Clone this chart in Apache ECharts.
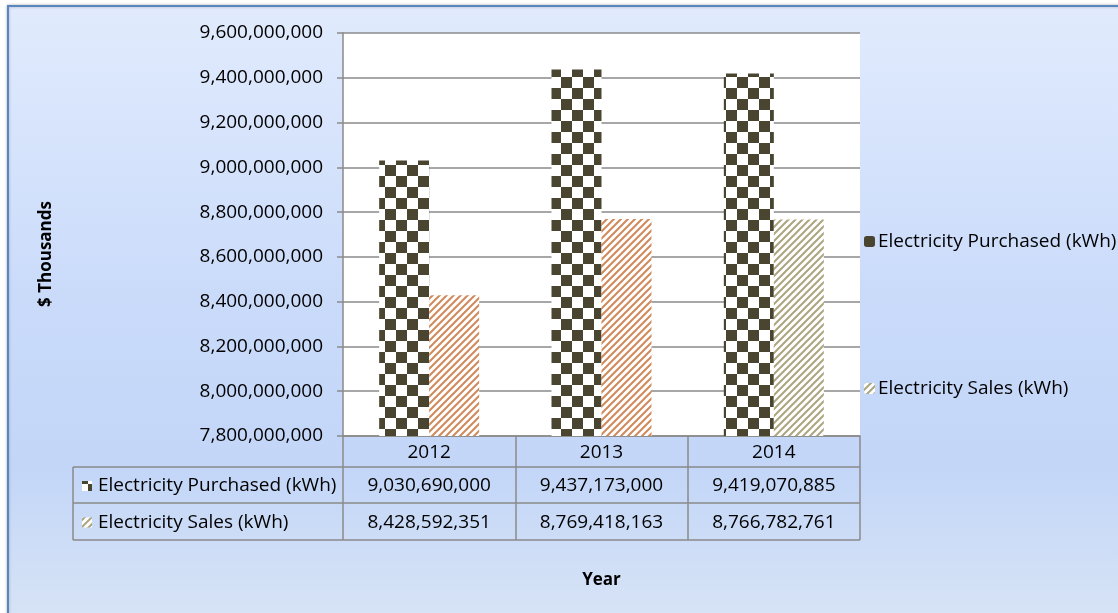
<!DOCTYPE html>
<html>
<head>
<meta charset="utf-8">
<script src="https://cdn.jsdelivr.net/npm/echarts@6/dist/echarts.min.js"></script>
<style>
html,body{margin:0;padding:0;background:#fff;}
#c{width:1118px;height:613px;}
</style>
</head>
<body>
<div id="c"></div>
<script>
// ---- data ----
const categories = ['2012', '2013', '2014'];
const seriesNames = ['Electricity Purchased (kWh)', 'Electricity Sales (kWh)'];
const purchased = [9030690000, 9437173000, 9419070885];
const sales = [8428592351, 8769418163, 8766782761];
const yMin = 7800000000;
const yMax = 9600000000;
const yStep = 200000000;
const yTitle = '$ Thousands';
const xTitle = 'Year';

// ---- layout / style ----
const FONT = 'Open Sans';
const FS = 19;
const G = {left: 343, top: 33, width: 517, height: 403};
const rowH = [31, 36, 37];
const tableLeft = 73;
const lineColor = '#8a8a8a';

function checker(cell, color) {
  const c = document.createElement('canvas');
  c.width = c.height = cell * 2;
  const g = c.getContext('2d');
  g.fillStyle = '#ffffff'; g.fillRect(0, 0, cell * 2, cell * 2);
  g.fillStyle = color;
  g.fillRect(0, 0, cell, cell);
  g.fillRect(cell, cell, cell, cell);
  return {image: c, repeat: 'repeat'};
}
function stripes(n, color, w) {
  const c = document.createElement('canvas');
  c.width = c.height = n;
  const g = c.getContext('2d');
  g.fillStyle = '#ffffff'; g.fillRect(0, 0, n, n);
  g.strokeStyle = color; g.lineWidth = w;
  g.beginPath();
  g.moveTo(-2, n + 2); g.lineTo(n + 2, -2);
  g.moveTo(-2, 2); g.lineTo(2, -2);
  g.moveTo(n - 2, n + 2); g.lineTo(n + 2, n - 2);
  g.stroke();
  return {image: c, repeat: 'repeat'};
}
const checkPat = checker(11, '#4a4530');
const orangePat = stripes(7, '#d08a5c', 2.0);
const olivePat = stripes(7, '#aca580', 2.0);

const fmt = v => Math.round(v).toLocaleString('en-US');

const chart = echarts.init(document.getElementById('c'));

const gfx = [];
gfx.push({
  type: 'rect', z: -10, silent: true,
  shape: {x: 8, y: 6, width: 1140, height: 640},
  style: {
    fill: new echarts.graphic.LinearGradient(0, 0, 0, 1, [
      {offset: 0, color: '#e1ebfd'},
      {offset: 0.45, color: '#cadbfa'},
      {offset: 0.72, color: '#c3d6f8'},
      {offset: 1, color: '#dbe6f5'}
    ]),
    stroke: '#5a86bf', lineWidth: 2,
    shadowBlur: 3, shadowColor: 'rgba(0,0,0,0.25)'
  }
});
gfx.push({type: 'text', silent: true, z: 6, x: 46, y: 254, rotation: Math.PI / 2,
  style: {text: yTitle, font: 'bold 17px "' + FONT + '"', fill: '#000',
    textAlign: 'center', textVerticalAlign: 'middle'}});

const catW = G.width / categories.length;
const y0 = G.top + G.height;
const yRows = [y0, y0 + rowH[0], y0 + rowH[0] + rowH[1], y0 + rowH[0] + rowH[1] + rowH[2]];
const right = G.left + G.width;
[1, 2, 3].forEach(k => {
  gfx.push({type: 'line', silent: true, z: 5,
    shape: {x1: tableLeft, y1: yRows[k], x2: right, y2: yRows[k]},
    style: {stroke: lineColor, lineWidth: 1.5}});
});
gfx.push({type: 'line', silent: true, z: 5,
  shape: {x1: tableLeft, y1: yRows[1], x2: tableLeft, y2: yRows[3]},
  style: {stroke: lineColor, lineWidth: 1.5}});
const rowData = [purchased, sales];
const pats = [checkPat, olivePat];
rowData.forEach((arr, r) => {
  const cy = (yRows[r + 1] + yRows[r + 2]) / 2 + 1;
  gfx.push({type: 'rect', silent: true, z: 6,
    shape: {x: 82, y: cy - 5, width: 10, height: 10},
    style: {fill: pats[r]}});
  gfx.push({type: 'text', silent: true, z: 6,
    x: 98, y: cy,
    style: {text: seriesNames[r], font: FS + 'px "' + FONT + '"', fill: '#000',
      textAlign: 'left', textVerticalAlign: 'middle'}});
  arr.forEach((v, i) => {
    gfx.push({type: 'text', silent: true, z: 6,
      x: G.left + (i + 0.5) * catW, y: cy,
      style: {text: fmt(v), font: FS + 'px "' + FONT + '"', fill: '#000',
        textAlign: 'center', textVerticalAlign: 'middle'}});
  });
});

const option = {
  backgroundColor: '#ffffff',
  animation: false,
  textStyle: {fontFamily: FONT},
  grid: {left: G.left, top: G.top, width: G.width, height: G.height,
    show: true, backgroundColor: '#ffffff', borderWidth: 0, containLabel: false},
  legend: [
    {data: [seriesNames[0]], left: 859, top: 227, orient: 'vertical',
      itemWidth: 11, itemHeight: 11, itemGap: 4,
      textStyle: {fontSize: FS, color: '#000', fontFamily: FONT, padding: [0, 0, 0, -2]}},
    {data: [seriesNames[1]], left: 859, top: 374, orient: 'vertical',
      itemWidth: 11, itemHeight: 11, itemGap: 4,
      textStyle: {fontSize: FS, color: '#000', fontFamily: FONT, padding: [0, 0, 0, -2]}}
  ],
  xAxis: {
    type: 'category', data: categories,
    axisLine: {show: true, lineStyle: {color: lineColor, width: 1.5}},
    axisTick: {show: true, length: rowH[0] + rowH[1] + rowH[2], interval: 0,
      lineStyle: {color: lineColor, width: 1.5}},
    axisLabel: {fontSize: FS, color: '#000', margin: 7, fontFamily: FONT},
    name: xTitle, nameLocation: 'middle', nameGap: 136,
    nameTextStyle: {fontSize: 17, fontWeight: 'bold', color: '#000', fontFamily: FONT}
  },
  yAxis: {
    type: 'value', min: yMin, max: yMax, interval: yStep,
    axisLine: {show: true, lineStyle: {color: lineColor, width: 1.5}},
    axisTick: {show: true, length: 6, lineStyle: {color: lineColor, width: 1.5}},
    splitLine: {show: true, lineStyle: {color: lineColor, width: 1.5}},
    axisLabel: {fontSize: FS, color: '#000', margin: 20, fontFamily: FONT,
      formatter: v => fmt(v)}
  },
  series: [
    {name: seriesNames[0], type: 'bar', data: purchased, barWidth: 50, barGap: '0%',
      itemStyle: {color: checkPat}},
    {name: seriesNames[1], type: 'bar', barWidth: 50, barGap: '0%',
      itemStyle: {color: olivePat},
      data: sales.map((v, i) => ({value: v, itemStyle: {color: i < 2 ? orangePat : olivePat}}))}
  ],
  graphic: gfx
};
chart.setOption(option);
</script>
</body>
</html>
